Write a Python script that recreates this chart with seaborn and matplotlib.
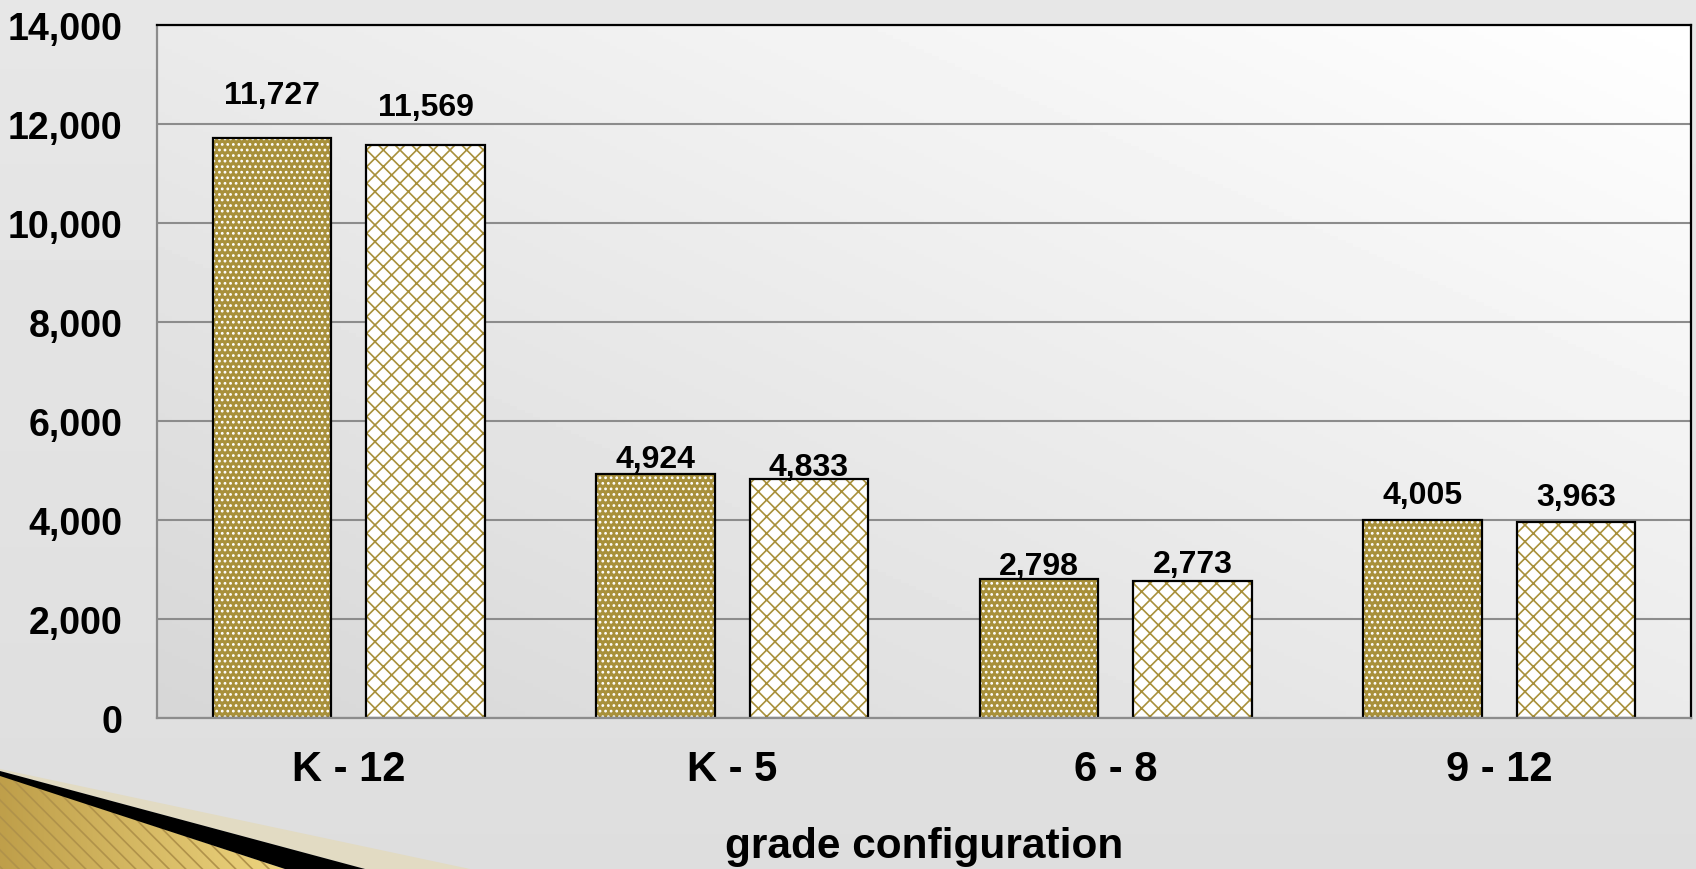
import numpy as np
import pandas as pd
import matplotlib.pyplot as plt
from matplotlib.patches import Polygon, Rectangle
from matplotlib.colors import to_rgb
import seaborn as sns

# data
grades = ["K - 12", "K - 5", "6 - 8", "9 - 12"]
series_names = ["first", "second"]
first_values = [11727, 4924, 2798, 4005]
second_values = [11569, 4833, 2773, 3963]

# label offsets above bars (points) - excel put them unevenly
pad_first = [20, 0, -1, 7]
pad_second = [17, -2, 1, 7]

veri = pd.DataFrame({
    "grade": grades * 2,
    "series": [series_names[0]] * 4 + [series_names[1]] * 4,
    "count": first_values + second_values,
})

gold = "#a8903a"

sns.set_theme(style="white")
plt.rcParams["font.family"] = ["Liberation Sans", "DejaVu Sans"]
plt.rcParams["font.weight"] = "bold"
plt.rcParams["hatch.linewidth"] = 1.2

fig = plt.figure(figsize=(16.96, 8.70), dpi=100)

# %% background (slide + plot area gradient + corner decoration)
bg = fig.add_axes([0, 0, 1, 1], zorder=-1)
yy = np.linspace(0, 1, 100)[:, None]
page = (0.905 - 0.035 * yy) * np.ones((100, 100))
bg.imshow(page, cmap="gray", vmin=0, vmax=1, extent=(0, 1696, 870, 0), aspect="auto")

X, Y = np.meshgrid(np.linspace(0, 1, 200), np.linspace(0, 1, 200))
t = (X + (1 - Y)) / 2
bg.imshow(0.84 + 0.16 * t, cmap="gray", vmin=0, vmax=1,
          extent=(157, 1691, 719, 26), aspect="auto")

tri = Polygon([(0, 776), (285, 870), (0, 870)], closed=True, fc="none", ec="none")
bg.add_patch(tri)
c0, c1 = np.array(to_rgb("#bf9f4a")), np.array(to_rgb("#eed57f"))
gx = np.linspace(0, 1, 100)[None, :, None]
gold_img = c0 + (c1 - c0) * gx * np.ones((50, 100, 3))
im = bg.imshow(gold_img, extent=(0, 290, 870, 770), aspect="auto")
im.set_clip_path(tri)
bg.add_patch(Polygon([(0, 776), (285, 870), (0, 870)], closed=True, fc="none",
                     ec="#b0924a", hatch="\\\\", lw=0))
bg.add_patch(Polygon([(0, 770), (470, 870), (365, 870), (0, 772)], closed=True,
                     fc="#e2dbc3", ec="none"))
bg.add_patch(Polygon([(0, 772), (365, 870), (285, 870), (0, 777)], closed=True,
                     fc="black", ec="none"))
bg.set_xlim(0, 1696)
bg.set_ylim(870, 0)
bg.axis("off")

# %% bar chart
ax = fig.add_axes([157 / 1696, 151 / 870, 1534 / 1696, 693 / 870])
ax.set_facecolor("none")

sns.barplot(data=veri, x="grade", y="count", hue="series", palette=[gold, "white"],
            width=0.8, gap=0.226, saturation=1, linewidth=0, legend=False, ax=ax)

hatches = ["...", "xx"]
hatch_colors = ["white", gold]
for cont, h, hc in zip(ax.containers, hatches, hatch_colors):
    for bar in cont:
        bar.set_hatch(h)
        bar.set_edgecolor(hc)
        bar.set_linewidth(0)
        ax.add_patch(Rectangle(bar.get_xy(), bar.get_width(), bar.get_height(),
                               fill=False, ec="black", lw=1.6, zorder=bar.get_zorder() + 0.1))

for cont, vals, pads in zip(ax.containers, [first_values, second_values], [pad_first, pad_second]):
    for bar, v, p in zip(cont, vals, pads):
        ax.annotate(f"{v:,}", (bar.get_x() + bar.get_width() / 2, bar.get_height()),
                    xytext=(0, p), textcoords="offset points", ha="center", va="bottom",
                    fontsize=23, fontweight="bold", color="black")

ax.set_xlim(-0.5, 3.5)
ax.set_ylim(0, 14000)
ax.set_yticks(range(0, 14001, 2000))
ax.yaxis.set_major_formatter("{x:,.0f}")
ax.yaxis.grid(True, color="#8c8c8c", lw=1.5)
ax.xaxis.grid(False)
ax.set_axisbelow(True)

ax.tick_params(axis="y", length=0, pad=25, labelsize=27, labelcolor="black")
ax.tick_params(axis="x", which="major", length=0, pad=22, labelsize=30, labelcolor="black")
ax.set_xticks([-0.5, 0.5, 1.5, 2.5, 3.5], minor=True)
ax.tick_params(axis="x", which="minor", length=9.5, width=1.5, color="#8c8c8c", direction="out")
for lbl in ax.get_xticklabels() + ax.get_yticklabels():
    lbl.set_fontweight("bold")

ax.set_ylabel("")
ax.set_xlabel("grade configuration", fontsize=30.5, fontweight="bold", color="black")
ax.xaxis.set_label_coords(0.5, -0.185)
ax.xaxis.label.set_va("center")

for s in ["top", "right"]:
    ax.spines[s].set_color("black")
    ax.spines[s].set_linewidth(1.6)
for s in ["left", "bottom"]:
    ax.spines[s].set_color("#8c8c8c")
    ax.spines[s].set_linewidth(1.6)

fig.savefig("out.png", dpi=100)
